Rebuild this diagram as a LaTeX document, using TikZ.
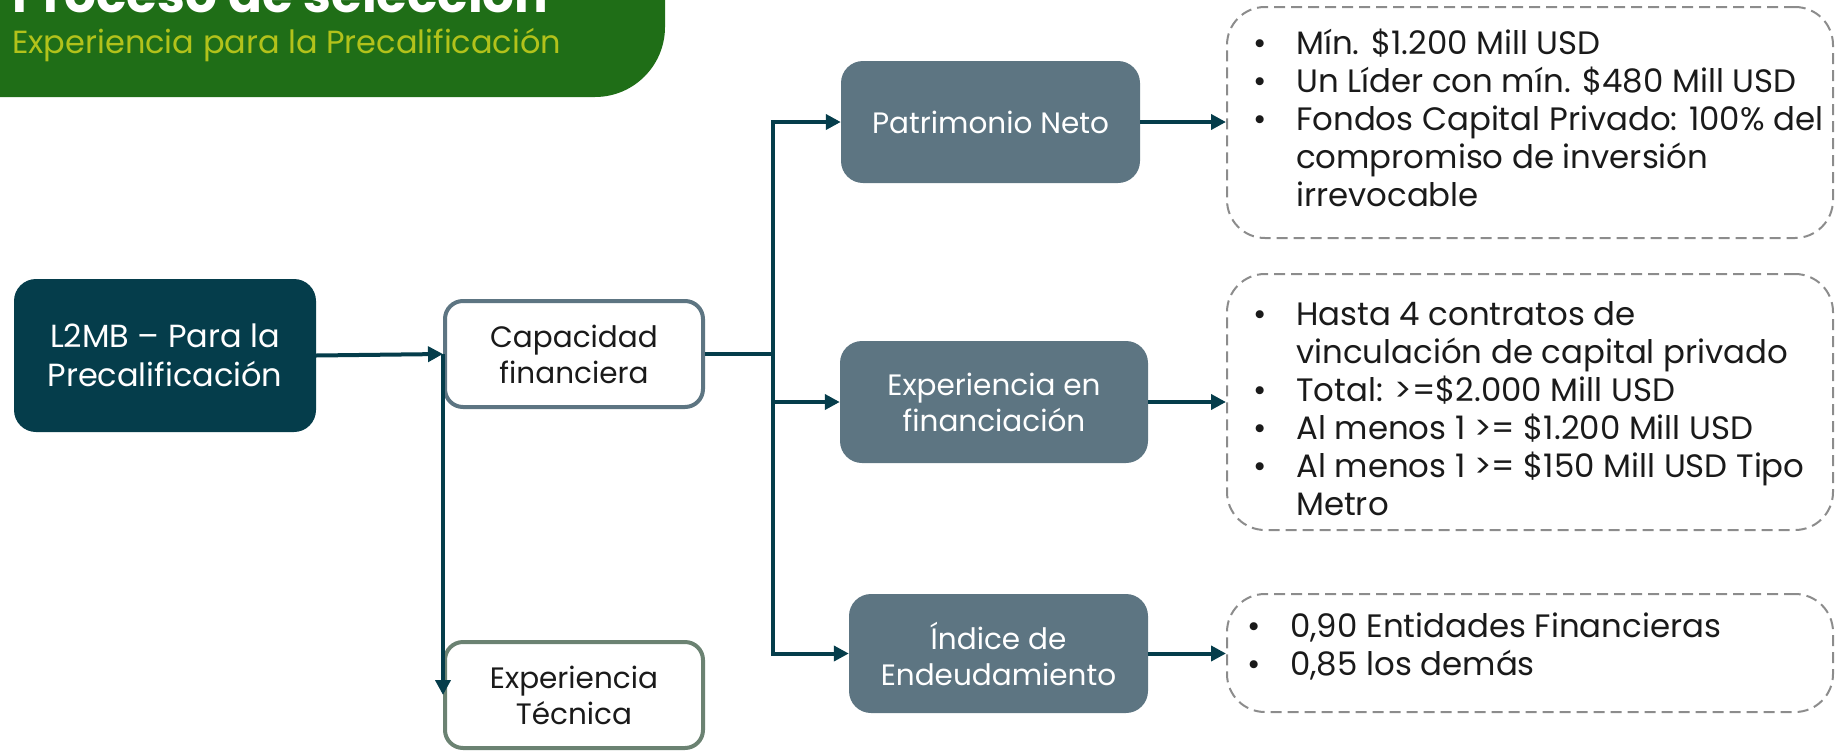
\documentclass[tikz,border=0pt]{standalone}
\usepackage{fontspec}
\setmainfont{Poppins}
\usetikzlibrary{arrows.meta}
\definecolor{titlegreen}{HTML}{1F6E17}
\definecolor{subyellow}{HTML}{B2C21B}
\definecolor{darkteal}{HTML}{053D4B}
\definecolor{slate}{HTML}{5D7582}
\definecolor{sage}{HTML}{6B8272}
\definecolor{dashgray}{HTML}{8C8C8C}
\definecolor{inktext}{HTML}{1A1A1A}
\newcommand{\boxfont}{\fontsize{29.5}{36}\selectfont}
\newcommand{\listfont}{\fontsize{32.4}{38}\selectfont}
\newcommand{\bul}{\textbullet}
\tikzset{
  mainbox/.style={rectangle, rounded corners=22pt, fill=darkteal, text=white,
    align=center, font=\fontsize{32}{39}\selectfont, inner sep=0pt},
  whitebox/.style={rectangle, rounded corners=18pt, fill=white, draw=slate,
    line width=4pt, text=inktext, align=center, font=\boxfont, inner sep=0pt},
  greybox/.style={rectangle, rounded corners=22pt, fill=slate, text=white,
    align=center, font=\boxfont, inner sep=0pt},
  notebox/.style={rectangle, rounded corners=38pt, draw=dashgray, line width=2pt,
    dash pattern=on 11pt off 6pt},
  flow/.style={draw=darkteal, line width=4pt, -{Triangle[length=15pt,width=15pt]}},
  bulletlist/.style={anchor=west, text=inktext, font=\listfont, inner sep=0pt}
}
\begin{document}
\begin{tikzpicture}[x=1pt,y=-1pt]
  \useasboundingbox (0,0) rectangle (1837,750);
  \clip (0,0) rectangle (1837,750);
  % title banner
  \fill[titlegreen, rounded corners=70pt] (-100,-100) -- (665,-100) -- (665,97)
     -- (-100,97) -- cycle;
  \node[anchor=base west, text=white, font=\fontsize{50}{54}\selectfont\bfseries,
     inner sep=0pt] (title) at (12,12) {Proceso de selección};
  \node[anchor=base west, text=subyellow, font=\fontsize{32}{36}\selectfont,
     inner sep=0pt] (subtitle) at (12,53) {Experiencia para la Precalificación};

  % boxes
  \node[mainbox, minimum width=302pt, minimum height=153pt] (l2mb) at (165,355.5)
     {L2MB -- Para la\\Precalificación};
  \node[whitebox, minimum width=258pt, minimum height=106pt] (capfin) at (574,354)
     {Capacidad\\financiera};
  \node[whitebox, draw=sage, minimum width=258pt, minimum height=106pt] (exptec) at (574,695)
     {Experiencia\\Técnica};
  \node[greybox, minimum width=299pt, minimum height=122pt] (patri) at (990.5,122)
     {Patrimonio Neto};
  \node[greybox, minimum width=308pt, minimum height=122pt] (expfin) at (994,402)
     {Experiencia en\\financiación};
  \node[greybox, minimum width=299pt, minimum height=119pt] (indice) at (998.5,653.5)
     {Índice de\\Endeudamiento};

  % dashed notes
  \node[notebox, minimum width=606pt, minimum height=231pt] (note1) at (1530,122.5) {};
  \node[notebox, minimum width=606pt, minimum height=256pt] (note2) at (1530,402) {};
  \node[notebox, minimum width=606pt, minimum height=118pt] (note3) at (1530,653) {};

  \node[bulletlist] (list1) at (1253,123) {%
    \begin{tabular}{@{}p{43pt}@{}l@{}}
    \bul & Mín. \$1.200 Mill USD\\
    \bul & Un Líder con mín. \$480 Mill USD\\
    \bul & Fondos Capital Privado: 100\% del\\
         & compromiso de inversión\\
         & irrevocable
    \end{tabular}};
  \node[bulletlist] (list2) at (1253,413) {%
    \begin{tabular}{@{}p{43pt}@{}l@{}}
    \bul & Hasta 4 contratos de\\
         & vinculación de capital privado\\
    \bul & Total: >=\$2.000 Mill USD\\
    \bul & Al menos 1 >= \$1.200 Mill USD\\
    \bul & Al menos 1 >= \$150 Mill USD Tipo\\
         & Metro
    \end{tabular}};
  \node[bulletlist] (list3) at (1247,648.5) {%
    \begin{tabular}{@{}p{43pt}@{}l@{}}
    \bul & 0,90 Entidades Financieras\\
    \bul & 0,85 los demás
    \end{tabular}};

  % connectors
  \draw[flow] (l2mb.east) -- (capfin.west);
  \draw[flow] (capfin.west) -- (exptec.west);
  \draw[draw=darkteal, line width=4pt] (capfin.east) -- ++(68,0) coordinate (split);
  \draw[flow] (split) |- (patri.west);
  \draw[flow] (split) |- (expfin.west);
  \draw[flow] (split) |- (indice.west);
  \draw[flow] (patri.east) -- (note1.west |- patri.east);
  \draw[flow] (expfin.east) -- (note2.west |- expfin.east);
  \draw[flow] (indice.east) -- (note3.west |- indice.east);
\end{tikzpicture}
\end{document}
